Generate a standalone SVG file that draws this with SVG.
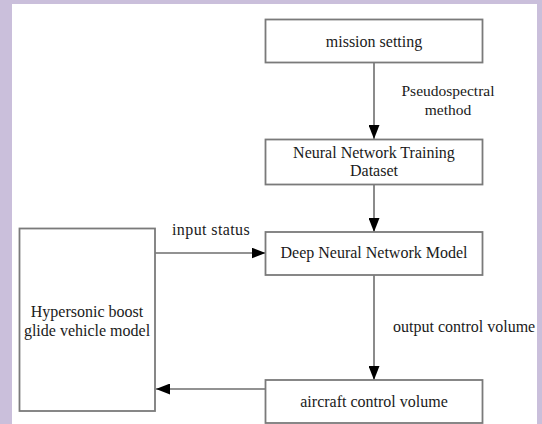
<svg xmlns="http://www.w3.org/2000/svg" width="542" height="424" viewBox="0 0 542 424">
  <defs>
    <marker id="arrow" markerWidth="14" markerHeight="11" refX="14" refY="5.5" orient="auto" markerUnits="userSpaceOnUse">
      <path d="M0,0 L14,5.5 L0,11 Z" fill="#000"/>
    </marker>
  </defs>
  <style>
    .box { fill: #fff; stroke: #7a7a7a; stroke-width: 1.8; }
    .conn { fill: none; stroke: #6e6e6e; stroke-width: 1.6; marker-end: url(#arrow); }
    text { font-family: "Liberation Serif", "Times New Roman", serif; font-size: 16px; fill: #1a1a1a; }
    .c { text-anchor: middle; }
  </style>
  <rect x="0" y="0" width="542" height="424" fill="#cabfdb"/>
  <rect x="12" y="4" width="525" height="420" fill="#fff"/>

  <g id="connectors">
    <line class="conn" x1="374" y1="62" x2="374" y2="139"/>
    <line class="conn" x1="374" y1="184" x2="374" y2="232"/>
    <line class="conn" x1="155" y1="253" x2="265.5" y2="253"/>
    <line class="conn" x1="374" y1="275" x2="374" y2="380"/>
    <line class="conn" x1="265.5" y1="389" x2="156" y2="389"/>
    <text x="448" y="96" class="c" style="font-size:15.5px">Pseudospectral</text>
    <text x="448" y="115" class="c" style="font-size:15.5px">method</text>
    <text x="172" y="235" style="letter-spacing:0.4px">input status</text>
    <text x="393" y="332">output control volume</text>
  </g>

  <g id="mission">
    <rect class="box" x="265.5" y="19.5" width="217" height="43"/>
    <text x="374" y="47" class="c">mission setting</text>
  </g>

  <g id="dataset">
    <rect class="box" x="265.5" y="139.5" width="217" height="45"/>
    <text x="374" y="158" class="c">Neural Network Training</text>
    <text x="374" y="176" class="c">Dataset</text>
  </g>

  <g id="dnn">
    <rect class="box" x="265.5" y="232" width="217" height="43"/>
    <text x="374" y="258" class="c">Deep Neural Network Model</text>
  </g>

  <g id="aircraft">
    <rect class="box" x="265.5" y="380" width="217" height="43"/>
    <text x="374" y="407" class="c">aircraft control volume</text>
  </g>

  <g id="hypersonic">
    <rect class="box" x="19.5" y="228.5" width="135.5" height="182.5"/>
    <text x="87" y="317" class="c">Hypersonic boost</text>
    <text x="87" y="336" class="c">glide vehicle model</text>
  </g>
</svg>
